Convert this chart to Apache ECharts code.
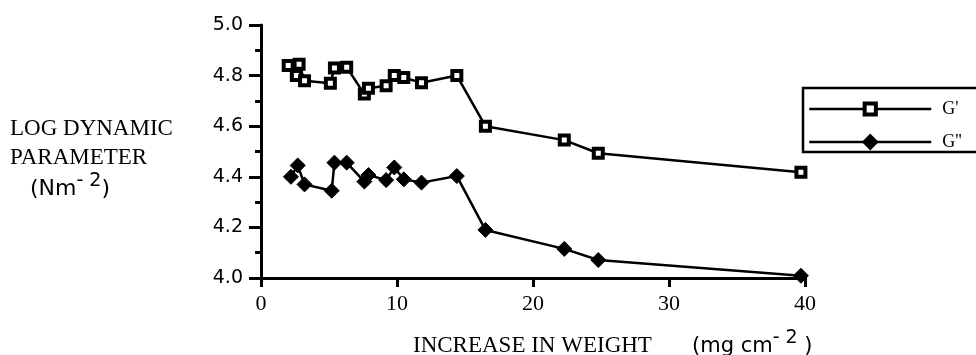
<!DOCTYPE html>
<html>
<head>
<meta charset="utf-8">
<script src="https://cdn.jsdelivr.net/npm/echarts@6/dist/echarts.min.js"></script>
<style>html,body{margin:0;padding:0;background:#fff;}#c{width:976px;height:355px;}</style>
</head>
<body>
<div id="c"></div>
<script>
var gPrimeX = [2.0, 2.6, 2.8, 3.2, 5.1, 5.4, 6.3, 7.6, 7.9, 9.2, 9.8, 10.5, 11.8, 14.4, 16.5, 22.3, 24.8, 39.7];
var gPrimeY = [4.84, 4.80, 4.845, 4.78, 4.77, 4.83, 4.833, 4.727, 4.75, 4.76, 4.80, 4.792, 4.772, 4.80, 4.60, 4.545, 4.493, 4.418];
var gDoubleX = [2.2, 2.7, 3.2, 5.2, 5.4, 6.3, 7.6, 7.9, 9.2, 9.8, 10.5, 11.8, 14.4, 16.5, 22.3, 24.8, 39.7];
var gDoubleY = [4.40, 4.445, 4.37, 4.345, 4.456, 4.456, 4.381, 4.407, 4.387, 4.437, 4.39, 4.377, 4.403, 4.19, 4.115, 4.071, 4.009];
var xTicks = [0, 10, 20, 30, 40];
var yTicks = ['4.0', '4.2', '4.4', '4.6', '4.8', '5.0'];
var seriesNames = ["G'", "G''"];

function pairs(xs, ys) { return xs.map(function (x, i) { return [x, ys[i]]; }); }

var chart = echarts.init(document.getElementById('c'), null, {renderer: 'canvas'});
var serif = '"Liberation Serif", "DejaVu Serif", serif';
var sans = '"DejaVu Sans", "Liberation Sans", sans-serif';
chart.setOption({
  animation: false,
  backgroundColor: '#fff',
  grid: {left: 261, right: 171, top: 25, bottom: 77, containLabel: false},
  xAxis: {
    type: 'value', min: xTicks[0], max: xTicks[xTicks.length - 1], interval: 10,
    axisLine: {lineStyle: {color: '#000', width: 3}},
    axisTick: {show: true, inside: false, length: 9, lineStyle: {color: '#000', width: 3}},
    axisLabel: {color: '#000', fontFamily: serif, fontSize: 22, margin: 15},
    splitLine: {show: false}
  },
  yAxis: {
    type: 'value', min: 4.0, max: 5.0, interval: 0.2,
    axisLine: {show: true, lineStyle: {color: '#000', width: 3}},
    axisTick: {show: true, length: 12, lineStyle: {color: '#000', width: 3}},
    minorTick: {show: true, splitNumber: 2, length: 6, lineStyle: {color: '#000', width: 3}},
    axisLabel: {color: '#000', fontFamily: sans, fontSize: 19, margin: 18,
      formatter: function (v) { return yTicks[Math.round((v - 4.0) / 0.2)]; }},
    splitLine: {show: false}
  },
  legend: {
    orient: 'vertical', left: 808, top: 100, padding: 0, itemWidth: 122, itemHeight: 14, itemGap: 15,
    textStyle: {color: '#000', fontFamily: serif, fontSize: 18, lineHeight: 14, padding: [0, 0, 0, 6]},
    lineStyle: {width: 2.5, color: '#000'},
    itemStyle: {borderWidth: 4, borderColor: '#000'},
    data: seriesNames
  },
  graphic: [
    {type: 'rect', shape: {x: 803, y: 88, width: 200, height: 64},
     style: {fill: 'none', stroke: '#000', lineWidth: 2.5}, z: 100},
    {type: 'text', left: 10, top: 117, style: {text: 'LOG DYNAMIC', font: '23px ' + serif, fill: '#000'}},
    {type: 'text', left: 10, top: 146, style: {text: 'PARAMETER', font: '23px ' + serif, fill: '#000'}},
    {type: 'text', left: 30, top: 172, style: {
      text: '{n|(Nm}{s|- 2}{n|)}',
      rich: {n: {fontFamily: sans, fontSize: 22, fill: '#000', padding: [8, 0, 0, 0]},
             s: {fontFamily: sans, fontSize: 19, fill: '#000', padding: [0, 0, 8, 0]}}
    }},
    {type: 'text', left: 413, top: 334, style: {text: 'INCREASE IN WEIGHT', font: '23px ' + serif, fill: '#000'}},
    {type: 'text', left: 692, top: 329, style: {
      text: '{n|(mg cm}{s|- 2}{n| )}',
      rich: {n: {fontFamily: sans, fontSize: 21, fill: '#000', padding: [8, 0, 0, 0]},
             s: {fontFamily: sans, fontSize: 19, fill: '#000', padding: [0, 0, 8, 0]}}
    }}
  ],
  series: [
    {name: seriesNames[0], type: 'line', data: pairs(gPrimeX, gPrimeY),
     symbol: 'rect', symbolSize: 9,
     lineStyle: {color: '#000', width: 2.5},
     itemStyle: {color: '#fff', borderColor: '#000', borderWidth: 4}, z: 3},
    {name: seriesNames[1], type: 'line', data: pairs(gDoubleX, gDoubleY),
     symbol: 'diamond', symbolSize: 15,
     lineStyle: {color: '#000', width: 2.5},
     itemStyle: {color: '#000', borderColor: '#000', borderWidth: 1}, z: 3}
  ]
});
</script>
</body>
</html>
